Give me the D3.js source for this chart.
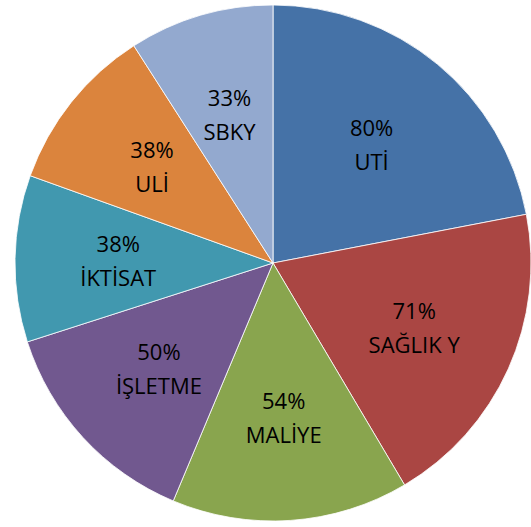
<!DOCTYPE html>
<meta charset="utf-8">
<title>Pasta grafik</title>
<script src="https://d3js.org/d3.v7.min.js"></script>
<style>
  body { margin: 0; background: #fff; }
</style>
<div id="pie"></div>
<script>
    // values
    var categories = ["UTİ", "SAĞLIK Y", "MALİYE", "İŞLETME", "İKTİSAT", "ULİ", "SBKY"];
    var values = [80, 71, 54, 50, 38, 38, 33];
    var colors = ["#4572A7", "#AA4643", "#89A54E", "#71588F", "#4198AF", "#DB843D", "#93A9CF"];

    var width = 531, height = 527;
    var cx = 273, cy = 263, radius = 258;

    var data = categories.map(function(c, i) { return {name: c, value: values[i]}; });

    var svg = d3.select("#pie")
      .append("svg")
        .attr("width", width)
        .attr("height", height)
      .append("g")
        .attr("transform", "translate(" + cx + "," + cy + ")");

    var pie = d3.pie()
      .sort(null)
      .value(function(d) { return d.value; });

    var arc = d3.arc().innerRadius(0).outerRadius(radius);
    // labels sit a bit past the middle of the radius
    var labelArc = d3.arc().innerRadius(radius * 0.6).outerRadius(radius * 0.6);

    var arcs = pie(data);

    svg.selectAll("path")
      .data(arcs)
      .enter()
      .append("path")
        .attr("d", arc)
        .attr("fill", function(d, i) { return colors[i]; })
        .attr("stroke", "#fff")
        .attr("stroke-opacity", 0.8)
        .attr("stroke-width", 1);

    var labels = svg.selectAll("text.lbl")
      .data(arcs)
      .enter()
      .append("text")
        .attr("class", "lbl")
        .attr("transform", function(d) { return "translate(" + labelArc.centroid(d) + ")"; })
        .attr("text-anchor", "middle")
        .style("font-family", "'Open Sans', sans-serif")
        .style("font-size", "22px")
        .attr("fill", "#000");

    labels.append("tspan")
      .attr("x", 0)
      .attr("y", -8)
      .text(function(d) { return d.data.value + "%"; });

    labels.append("tspan")
      .attr("x", 0)
      .attr("y", 26)
      .text(function(d) { return d.data.name; });
</script>
